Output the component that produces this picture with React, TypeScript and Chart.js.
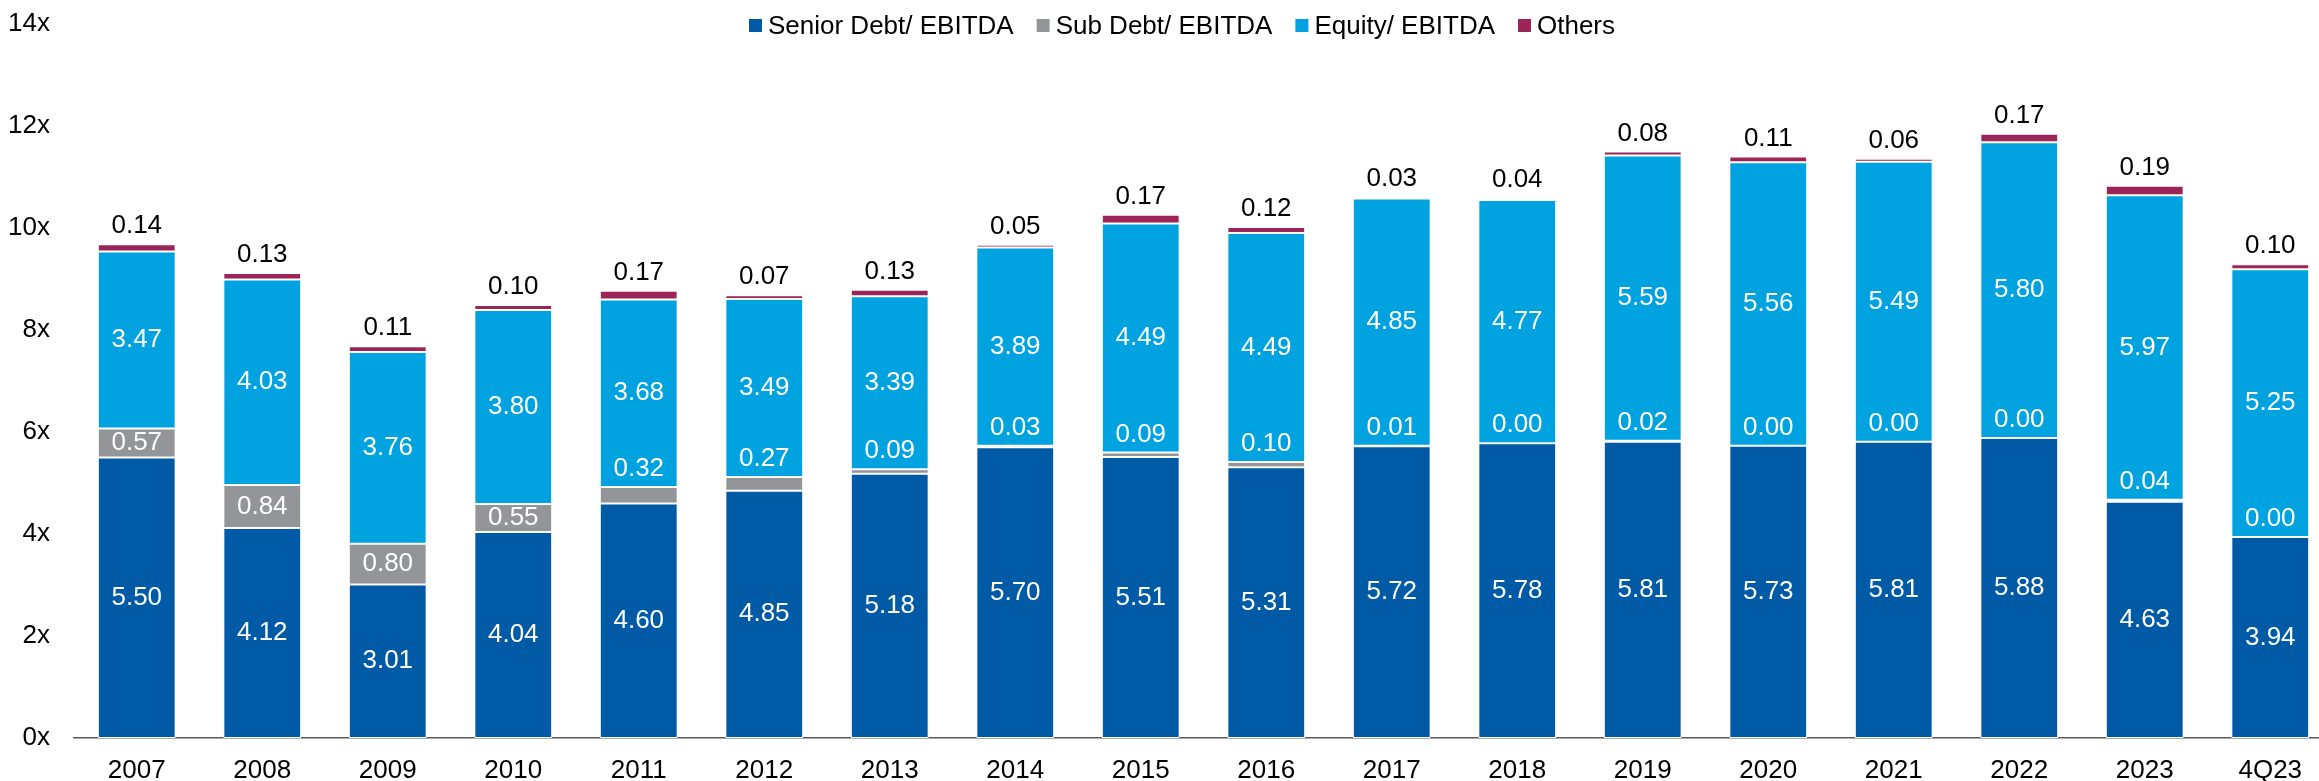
import React, { useEffect, useRef } from "react";
import { Chart, registerables } from "chart.js";

Chart.register(...registerables);

const categories = ["2007","2008","2009","2010","2011","2012","2013","2014","2015","2016","2017","2018","2019","2020","2021","2022","2023","4Q23"];
const seniorDebt = [5.50,4.12,3.01,4.04,4.60,4.85,5.18,5.70,5.51,5.31,5.72,5.78,5.81,5.73,5.81,5.88,4.63,3.94];
const subDebt = [0.57,0.84,0.80,0.55,0.32,0.27,0.09,0.03,0.09,0.10,0.01,0.00,0.02,0.00,0.00,0.00,0.04,0.00];
const equity = [3.47,4.03,3.76,3.80,3.68,3.49,3.39,3.89,4.49,4.49,4.85,4.77,5.59,5.56,5.49,5.80,5.97,5.25];
const others = [0.14,0.13,0.11,0.10,0.17,0.07,0.13,0.05,0.17,0.12,0.03,0.04,0.08,0.11,0.06,0.17,0.19,0.10];
const seriesNames = ["Senior Debt/ EBITDA","Sub Debt/ EBITDA","Equity/ EBITDA","Others"];
const yTicks = [0,2,4,6,8,10,12,14];

const COLORS = ["#005aa5", "#939598", "#00a3e0", "#9b2556"];
const FONT = "'Liberation Sans', Arial, sans-serif";

const labelPlugin = {
  id: "segLabels",
  afterDatasetsDraw(chart: any) {
    const ctx = chart.ctx;
    ctx.save();
    ctx.font = `26px ${FONT}`;
    ctx.textAlign = "center";
    ctx.textBaseline = "middle";
    chart.data.datasets.forEach((ds: any, di: number) => {
      const meta = chart.getDatasetMeta(di);
      meta.data.forEach((bar: any, i: number) => {
        const v = ds.data[i];
        const txt = Number(v).toFixed(2);
        const top = Math.min(bar.y, bar.base);
        const h = Math.abs(bar.base - bar.y);
        if (di === 3) {
          ctx.fillStyle = "#000000";
          ctx.fillText(txt, bar.x, top - 18);
        } else {
          ctx.fillStyle = "#ffffff";
          if (h > 25) ctx.fillText(txt, bar.x, top + h / 2);
          else ctx.fillText(txt, bar.x, top - 18);
        }
      });
    });
    ctx.restore();
  },
};

const legendPlugin = {
  id: "customLegend",
  afterDraw(chart: any) {
    const ctx = chart.ctx;
    ctx.save();
    ctx.font = `26px ${FONT}`;
    ctx.textBaseline = "middle";
    ctx.textAlign = "left";
    const sq = 13, gapText = 6, gapItem = 23;
    const widths = seriesNames.map((n) => ctx.measureText(n).width);
    let total = 0;
    widths.forEach((w, i) => {
      total += sq + gapText + w + (i < widths.length - 1 ? gapItem : 0);
    });
    let x = 1182 - total / 2;
    const cy = 25.5;
    seriesNames.forEach((n, i) => {
      ctx.fillStyle = COLORS[i];
      ctx.fillRect(x, cy - sq / 2, sq, sq);
      x += sq + gapText;
      ctx.fillStyle = "#000000";
      ctx.fillText(n, x, cy + 1);
      x += widths[i] + gapItem;
    });
    ctx.restore();
  },
};

export default function App() {
  const ref = useRef<HTMLCanvasElement | null>(null);
  useEffect(() => {
    document.body.style.margin = "0";
    const canvas = ref.current!;
    const series = [seniorDebt, subDebt, equity, others];
    const chart = new Chart(canvas, {
      type: "bar",
      data: {
        labels: categories,
        datasets: series.map((d, i) => ({
          label: seriesNames[i],
          data: d,
          backgroundColor: COLORS[i],
          borderColor: "#ffffff",
          borderWidth: 1,
          borderSkipped: false,
          barPercentage: 0.62,
          categoryPercentage: 1,
        })),
      },
      options: {
        responsive: false,
        animation: false,
        devicePixelRatio: 1,
        layout: { padding: { top: 24, right: 7, left: 0, bottom: 0 } },
        plugins: { legend: { display: false }, tooltip: { enabled: false } },
        scales: {
          x: {
            stacked: true,
            grid: { display: false, drawTicks: false },
            border: { display: true, color: "#595959", width: 1.5 },
            ticks: { color: "#000000", font: { family: FONT, size: 26 }, padding: 17, maxRotation: 0, autoSkip: false },
            afterFit: (s: any) => { s.height = 43; },
          },
          y: {
            stacked: true,
            min: 0,
            max: 14,
            afterBuildTicks: (s: any) => { s.ticks = yTicks.map((v) => ({ value: v })); },
            grid: { display: false, drawTicks: false },
            border: { display: false },
            ticks: {
              color: "#000000",
              font: { family: FONT, size: 26 },
              padding: 24,
              callback: (v: any) => `${v}x`,
            },
            afterFit: (s: any) => {
              s.width = 74;
              s.paddingTop = 0;
              s.paddingBottom = 0;
            },
          },
        },
      },
      plugins: [labelPlugin, legendPlugin],
    });
    return () => chart.destroy();
  }, []);
  return (
    <div style={{ width: 2319, height: 781, overflow: "hidden", background: "#ffffff" }}>
      <canvas ref={ref} width={2340} height={781} style={{ display: "block" }} />
    </div>
  );
}
